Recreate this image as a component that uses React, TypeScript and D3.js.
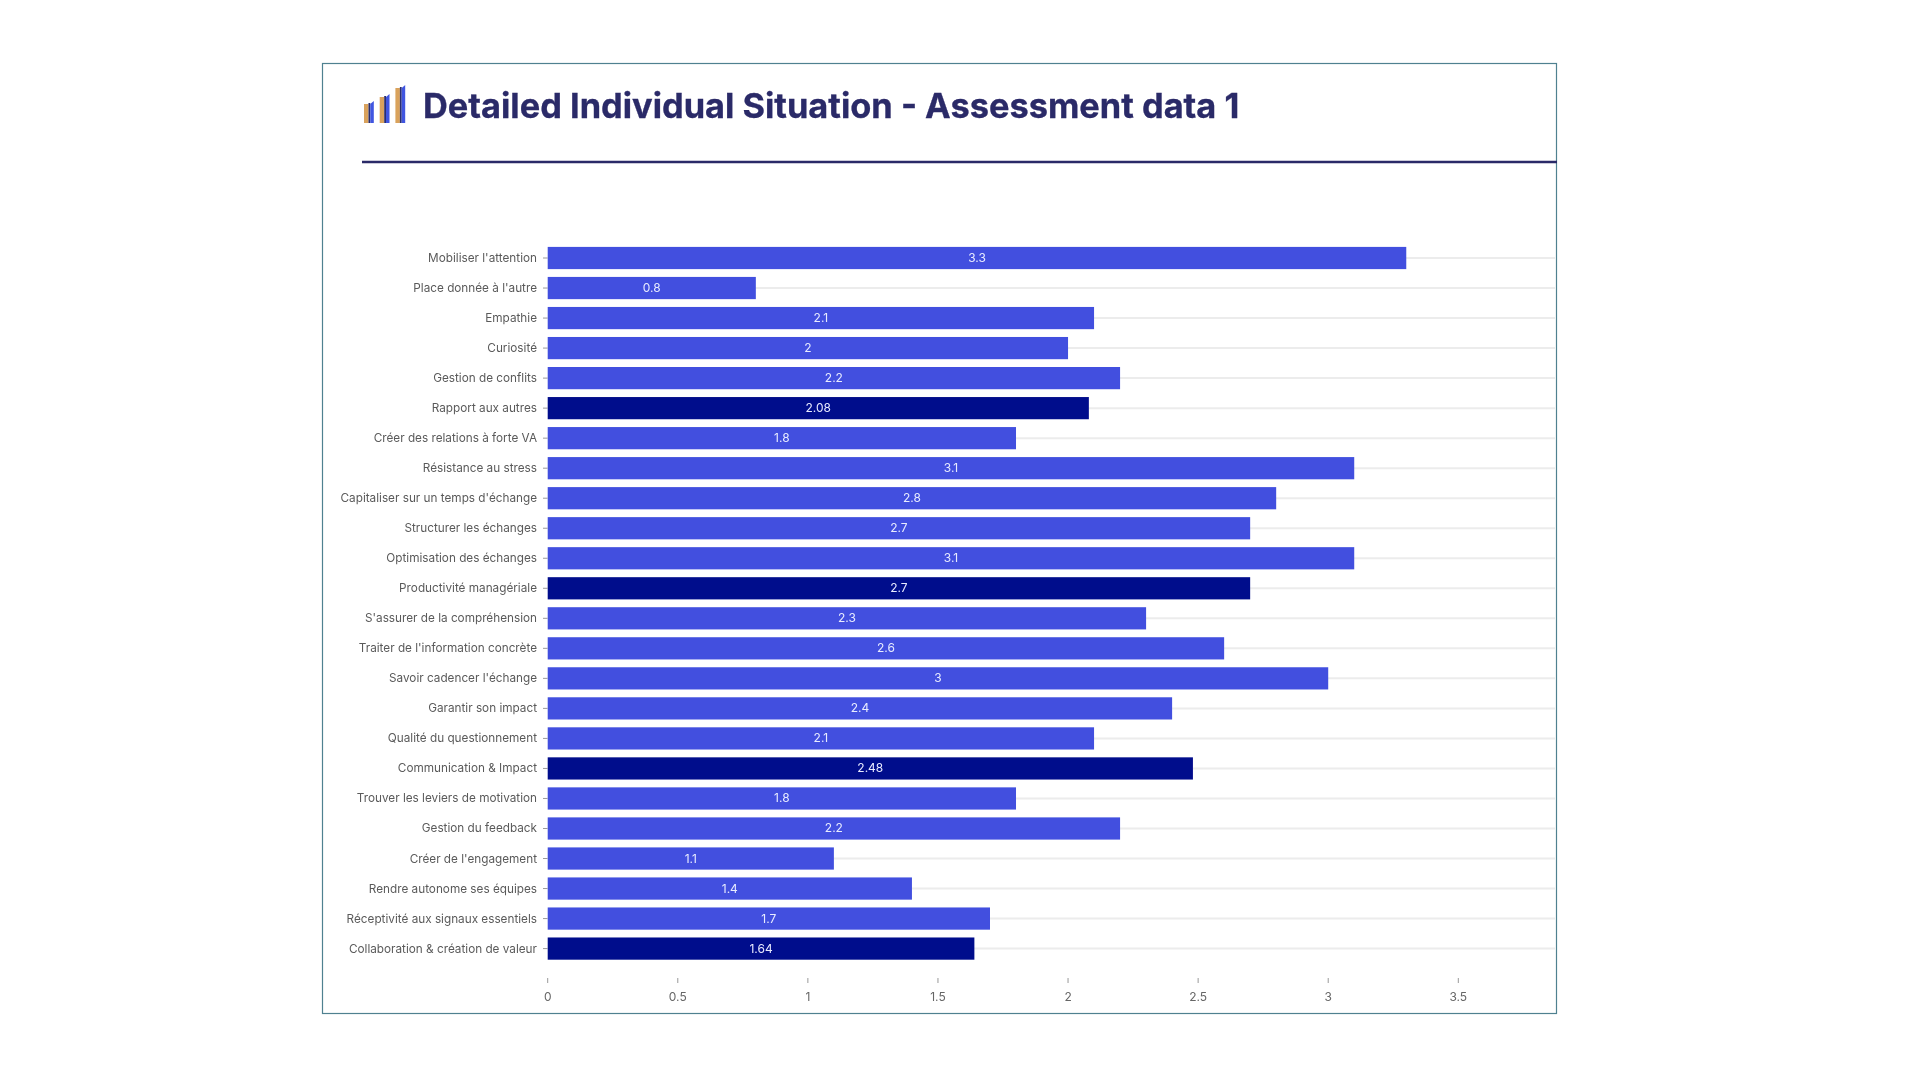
import React from "react";
import * as d3 from "d3";

const categories = [
  "Mobiliser l'attention", "Place donnée à l'autre", "Empathie", "Curiosité", "Gestion de conflits",
  "Rapport aux autres", "Créer des relations à forte VA", "Résistance au stress", "Capitaliser sur un temps d'échange",
  "Structurer les échanges", "Optimisation des échanges", "Productivité managériale", "S'assurer de la compréhension",
  "Traiter de l'information concrète", "Savoir cadencer l'échange", "Garantir son impact", "Qualité du questionnement",
  "Communication & Impact", "Trouver les leviers de motivation", "Gestion du feedback", "Créer de l'engagement",
  "Rendre autonome ses équipes", "Réceptivité aux signaux essentiels", "Collaboration & création de valeur",
];
const values = [3.3, 0.8, 2.1, 2, 2.2, 2.08, 1.8, 3.1, 2.8, 2.7, 3.1, 2.7, 2.3, 2.6, 3, 2.4, 2.1, 2.48, 1.8, 2.2, 1.1, 1.4, 1.7, 1.64];
const summaryRows = ["Rapport aux autres", "Productivité managériale", "Communication & Impact", "Collaboration & création de valeur"];
const xTicks = [0, 0.5, 1, 1.5, 2, 2.5, 3, 3.5];
const titleText = "Detailed Individual Situation - Assessment data 1";
const iconHeights = [19, 26, 35];

const FONT = "Inter, 'Noto Sans', sans-serif";

export default function App() {
  const x = d3.scaleLinear().domain([0, 3.5]).range([547.7, 1458.3]);
  const y = d3.scaleBand().domain(categories).range([243, 963.6]).paddingInner(0.26).paddingOuter(0.13);
  const bw = y.bandwidth();
  return (
    <svg width={1920} height={1080} style={{ position: "absolute", left: 0, top: 0, background: "#fff" }}>
      <defs>
        <filter id="soft" x="0" y="0" width="1920" height="1080" filterUnits="userSpaceOnUse">
          <feGaussianBlur stdDeviation="0.65" />
        </filter>
      </defs>
      <g filter="url(#soft)">
        <rect x={322.5} y={63.5} width={1234} height={950} fill="#fff" stroke="#4f8190" strokeWidth={1.2} />
        {iconHeights.map((h, i) => {
          const bx = 364 + i * 15.7;
          return (
            <g key={i}>
              <rect x={bx} y={123 - h} width={4.5} height={h} fill="#d9a25c" />
              <rect x={bx + 4.5} y={123 - h - 1} width={1.8} height={h + 1} fill="#2b2f6e" />
              <polygon
                points={[[bx + 6.3, 123], [bx + 9.8, 123], [bx + 9.8, 123 - h - 3], [bx + 6.3, 123 - h]].join(" ")}
                fill="#3f55e0"
              />
            </g>
          );
        })}
        <text x={423} y={118} fontFamily={FONT} fontWeight={700} fontSize={34.4} fill="#2c2a68" stroke="#2c2a68" strokeWidth={0.3}>{titleText}</text>
        <line x1={362} x2={1557} y1={162} y2={162} stroke="#2c2a68" strokeWidth={2.6} />
        {categories.map((c, i) => {
          const top = y(c)!;
          const cy = top + bw / 2;
          return (
            <g key={c}>
              <line x1={x(0)} x2={1555} y1={cy} y2={cy} stroke="#ececec" strokeWidth={2} />
              <line x1={543} x2={547.5} y1={cy} y2={cy} stroke="#999" strokeWidth={1} />
              <text x={537} y={cy + 4} textAnchor="end" fontFamily={FONT} fontSize={11.75} fill="#5a5a5a">{c}</text>
              <rect x={x(0)} y={top} width={x(values[i]) - x(0)} height={bw} fill={summaryRows.includes(c) ? "#020d8c" : "#4250df"} />
              <text x={(x(0) + x(values[i])) / 2} y={cy + 4} textAnchor="middle" fontFamily={FONT} fontSize={12} fill="#e8ebff">{values[i]}</text>
            </g>
          );
        })}
        {xTicks.map((t) => (
          <g key={t}>
            <line x1={x(t)} x2={x(t)} y1={978} y2={983} stroke="#999" strokeWidth={1} />
            <text x={x(t)} y={1000.5} textAnchor="middle" fontFamily={FONT} fontSize={12} fill="#666">{t}</text>
          </g>
        ))}
      </g>
    </svg>
  );
}
